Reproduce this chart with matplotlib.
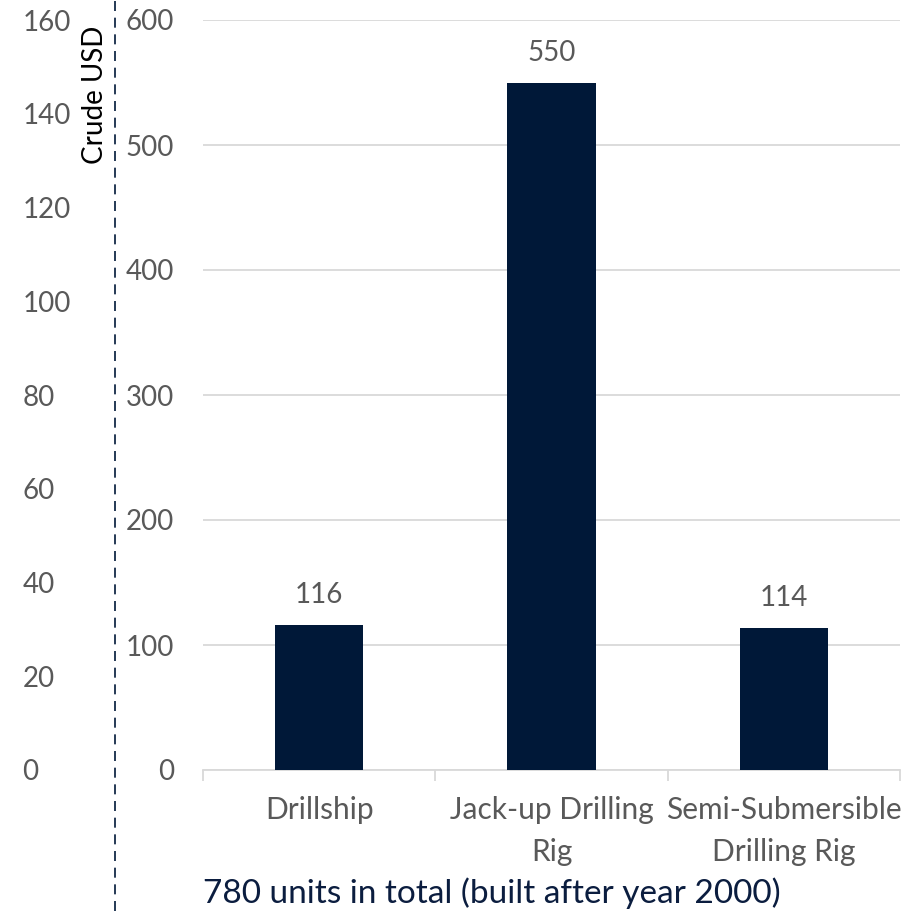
import matplotlib.pyplot as plt
from matplotlib.lines import Line2D

categories = ['Drillship', 'Jack-up Drilling\nRig', 'Semi-Submersible\nDrilling Rig']
units = [116, 550, 114]
units_ticks = [0, 100, 200, 300, 400, 500, 600]
crude_ticks = [0, 20, 40, 60, 80, 100, 120, 140, 160]

plt.rcParams['font.family'] = ['Lato', 'DejaVu Sans']

navy = '#001838'
grey_txt = '#595959'
grid_col = '#d9d9d9'

fig = plt.figure(figsize=(9.07, 9.11), dpi=100)
ax = fig.add_axes([203 / 907, 1 - 770 / 911, 697 / 907, 750 / 911])

x = list(range(len(categories)))
bars = ax.bar(x, units, width=0.38, color=navy, zorder=3)
for xi, v in zip(x, units):
    ax.annotate(str(v), (xi, v), xytext=(0, 12), textcoords='offset points',
                ha='center', va='bottom', fontsize=20, color=grey_txt)

ax.set_xlim(-0.5, 2.5)
ax.set_ylim(0, 600)
ax.set_yticks(units_ticks)
ax.yaxis.grid(True, color=grid_col, linewidth=1.3, zorder=0)
ax.tick_params(axis='y', length=0, labelsize=20, labelcolor=grey_txt, pad=21)
for s in ['top', 'right', 'left']:
    ax.spines[s].set_visible(False)
ax.spines['bottom'].set_color(grid_col)
ax.spines['bottom'].set_linewidth(1.3)

# category labels centred, tick marks on the boundaries
ax.set_xticks(x)
ax.set_xticklabels(categories, fontsize=21.5, color=grey_txt, linespacing=1.6)
ax.tick_params(axis='x', length=0, pad=19)
ax.set_xticks([-0.5, 0.5, 1.5, 2.5], minor=True)
ax.tick_params(axis='x', which='minor', length=8, width=1.3, color=grid_col)

# second scale on the far left (crude price), no data plotted
ax2 = ax.twinx()
ax2.set_ylim(0, 160)
ax2.set_yticks(crude_ticks)
ax2.yaxis.tick_left()
for s in ax2.spines.values():
    s.set_visible(False)
ax2.tick_params(axis='y', length=0, labelsize=20, labelcolor=grey_txt, pad=130)
for lab in ax2.get_yticklabels():
    lab.set_horizontalalignment('left')

fig.text(95 / 907, 1 - 95 / 911, 'Crude USD', rotation=90, ha='center', va='center',
         fontsize=20, color='black')
fig.add_artist(Line2D([114.5 / 907, 114.5 / 907], [0, 1], transform=fig.transFigure,
                      color=navy, linestyle=(0, (6, 4)), linewidth=1.2))

fig.text(203 / 907, 1 - 893 / 911, '780 units in total (built after year 2000)',
         ha='left', va='center', fontsize=24, color='#0b1d3f')

plt.savefig('out.png', dpi=100)
plt.close()
